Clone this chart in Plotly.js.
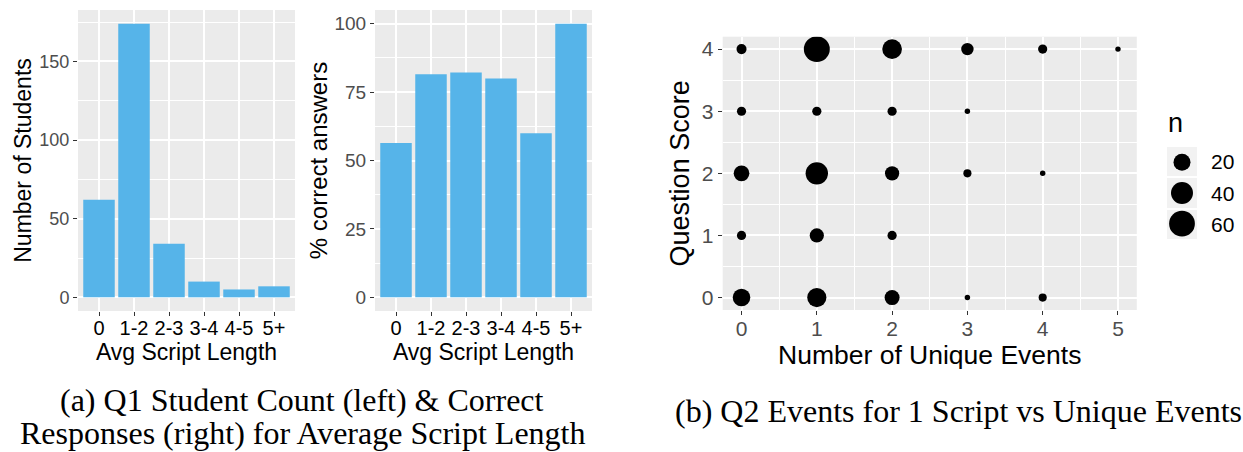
<!DOCTYPE html>
<html>
<head>
<meta charset="utf-8">
<script src="https://cdn.plot.ly/plotly-3.0.1.min.js"></script>
<style>html,body{margin:0;padding:0;background:#fff;}#chart{width:1243px;height:452px;}</style>
</head>
<body>
<div id="chart"></div>
<script>
// ---- data ----
var scriptLengthCategories = ['0', '1-2', '2-3', '3-4', '4-5', '5+'];
var studentCounts = [62, 174, 34, 10, 5, 7];
var percentCorrect = [56.4, 81.5, 82.2, 80, 60, 100];

var uniqueEvents  = [0, 1, 2, 3, 4, 5,  0, 1, 2, 3,  0, 1, 2, 3, 4,  0, 1, 2,  0, 1, 2, 3, 4];
var questionScore = [4, 4, 4, 4, 4, 4,  3, 3, 3, 3,  2, 2, 2, 2, 2,  1, 1, 1,  0, 0, 0, 0, 0];
var nStudents     = [4, 61, 30, 8, 3, 1,  3, 3, 3, 1,  16, 42, 12, 2, 1,  3, 12, 3,  22, 28, 14, 1, 2];

var legendBreaks = [20, 40, 60];
var legendLabels = ['20', '40', '60'];

// ---- size scale (area-proportional, like ggplot scale_size range 1..6) ----
var nMin = Math.min.apply(null, nStudents), nMax = Math.max.apply(null, nStudents);
function sizeScale(n) { return 4.1 * (1 + 5 * Math.sqrt((n - nMin) / (nMax - nMin)) + 0.33); }

var W = 1243, H = 452;
function px(x) { return x / W; }
function py(y) { return 1 - y / H; }

var SANS = 'Liberation Sans, Arial, sans-serif';
var SERIF = 'Liberation Serif, Times New Roman, serif';
var BAR = '#56B4E9';
var TICKGRAY = '#4D4D4D';

var traces = [
  { type: 'bar', x: scriptLengthCategories, y: studentCounts, xaxis: 'x', yaxis: 'y',
    marker: { color: BAR, line: { width: 0 } }, hoverinfo: 'x+y' },
  { type: 'bar', x: scriptLengthCategories, y: percentCorrect, xaxis: 'x2', yaxis: 'y2',
    marker: { color: BAR, line: { width: 0 } }, hoverinfo: 'x+y' },
  { type: 'scatter', mode: 'markers', x: uniqueEvents, y: questionScore, xaxis: 'x3', yaxis: 'y3',
    marker: { color: '#000000', opacity: 1, size: nStudents.map(sizeScale), sizemode: 'diameter', line: { width: 0 } },
    text: nStudents, hovertemplate: 'n=%{text}<extra></extra>' },
  { type: 'scatter', mode: 'markers', x: legendBreaks.map(function () { return 0; }),
    y: legendBreaks.map(function (v, i) { return i; }), xaxis: 'x4', yaxis: 'y4',
    marker: { color: '#000000', opacity: 1, size: legendBreaks.map(sizeScale), sizemode: 'diameter', line: { width: 0 } },
    hoverinfo: 'skip' }
];

function baseAxis(extra) {
  var a = {
    showline: false, zeroline: false, showgrid: true, gridcolor: '#FFFFFF', gridwidth: 2,
    ticks: 'outside', ticklen: 4, tickwidth: 1, tickcolor: '#333333',
    tickfont: { family: SANS, size: 19, color: TICKGRAY }, fixedrange: true
  };
  for (var k in extra) a[k] = extra[k];
  return a;
}

var layout = {
  width: W, height: H,
  margin: { l: 0, r: 0, t: 0, b: 0 },
  paper_bgcolor: '#FFFFFF', plot_bgcolor: '#EBEBEB',
  showlegend: false, bargap: 0.1,
  font: { family: SANS, color: '#000000' },

  xaxis: baseAxis({ domain: [px(78), px(295)], anchor: 'y', type: 'category',
    range: [-0.6, 5.6], tickfont: { family: SANS, size: 20, color: '#000000' }, ticklabelstandoff: -5,
    title: { text: 'Avg Script Length', font: { family: SANS, size: 23, color: '#000000' }, standoff: 0 } }),
  yaxis: baseAxis({ domain: [py(311), py(10)], anchor: 'x', range: [-8.7, 182.7],
    tickmode: 'linear', tick0: 0, dtick: 50, tickfont: { family: SANS, size: 18, color: TICKGRAY },
    minor: { tickmode: 'linear', tick0: 25, dtick: 50, showgrid: true, gridcolor: '#FFFFFF', gridwidth: 1, ticks: '' },
    title: { text: 'Number of Students', font: { family: SANS, size: 23, color: '#000000' }, standoff: 1 } }),

  xaxis2: baseAxis({ domain: [px(375), px(592)], anchor: 'y2', type: 'category',
    range: [-0.6, 5.6], tickfont: { family: SANS, size: 20, color: '#000000' }, ticklabelstandoff: -5,
    title: { text: 'Avg Script Length', font: { family: SANS, size: 23, color: '#000000' }, standoff: 0 } }),
  yaxis2: baseAxis({ domain: [py(311), py(10)], anchor: 'x2', range: [-5, 105],
    tickmode: 'linear', tick0: 0, dtick: 25, tickfont: { family: SANS, size: 19, color: TICKGRAY },
    minor: { tickmode: 'linear', tick0: 12.5, dtick: 25, showgrid: true, gridcolor: '#FFFFFF', gridwidth: 1, ticks: '' },
    title: { text: '% correct answers', font: { family: SANS, size: 24, color: '#000000' }, standoff: 0 } }),

  xaxis3: baseAxis({ domain: [px(722.7), px(1136.8)], anchor: 'y3', range: [-0.25, 5.25],
    tickmode: 'linear', tick0: 0, dtick: 1, tickfont: { family: SANS, size: 21, color: TICKGRAY }, ticklabelstandoff: -4,
    minor: { tickmode: 'linear', tick0: 0.5, dtick: 1, showgrid: true, gridcolor: '#FFFFFF', gridwidth: 1, ticks: '' },
    title: { text: 'Number of Unique Events', font: { family: SANS, size: 26.5, color: '#000000' }, standoff: 3 } }),
  yaxis3: baseAxis({ domain: [py(310), py(36.7)], anchor: 'x3', range: [-0.2, 4.2],
    tickmode: 'linear', tick0: 0, dtick: 1, tickfont: { family: SANS, size: 21, color: TICKGRAY },
    minor: { tickmode: 'linear', tick0: 0.5, dtick: 1, showgrid: true, gridcolor: '#FFFFFF', gridwidth: 1, ticks: '' },
    title: { text: 'Question Score', font: { family: SANS, size: 27, color: '#000000' }, standoff: 4 } }),

  xaxis4: { domain: [px(1167), px(1197)], anchor: 'y4', range: [-1, 1], visible: false, fixedrange: true },
  yaxis4: { domain: [py(239), py(147)], anchor: 'x4', range: [2.5, -0.5], visible: false, fixedrange: true },

  shapes: [
    { type: 'rect', xref: 'paper', yref: 'paper', x0: px(1160), x1: px(1205), y0: py(245), y1: py(140),
      fillcolor: '#FFFFFF', line: { width: 0 }, layer: 'below' },
    { type: 'rect', xref: 'paper', yref: 'paper', x0: px(1167), x1: px(1197), y0: py(176), y1: py(147),
      fillcolor: '#F2F2F2', line: { width: 0 }, layer: 'below' },
    { type: 'rect', xref: 'paper', yref: 'paper', x0: px(1167), x1: px(1197), y0: py(208), y1: py(178),
      fillcolor: '#F2F2F2', line: { width: 0 }, layer: 'below' },
    { type: 'rect', xref: 'paper', yref: 'paper', x0: px(1167), x1: px(1197), y0: py(239), y1: py(210),
      fillcolor: '#F2F2F2', line: { width: 0 }, layer: 'below' }
  ],

  annotations: [
    { xref: 'paper', yref: 'paper', x: px(1166), y: py(123), xanchor: 'left', yanchor: 'middle',
      text: 'n', showarrow: false, font: { family: SANS, size: 27, color: '#000000' } },
    { xref: 'paper', yref: 'paper', x: px(302), y: py(400), xanchor: 'center', yanchor: 'middle',
      text: '(a) Q1 Student Count (left) &amp; Correct', showarrow: false,
      font: { family: SERIF, size: 32, color: '#000000' } },
    { xref: 'paper', yref: 'paper', x: px(302), y: py(433), xanchor: 'center', yanchor: 'middle',
      text: 'Responses (right) for Average Script Length', showarrow: false,
      font: { family: SERIF, size: 32, color: '#000000' } },
    { xref: 'paper', yref: 'paper', x: px(958), y: py(411), xanchor: 'center', yanchor: 'middle',
      text: '(b) Q2 Events for 1 Script vs Unique Events', showarrow: false,
      font: { family: SERIF, size: 32, color: '#000000' } }
  ]
};

var legendCentersPx = [161.7, 193.3, 224.3];
legendLabels.forEach(function (lab, i) {
  layout.annotations.push({ xref: 'paper', yref: 'paper', x: px(1209), y: py(legendCentersPx[i]),
    xanchor: 'left', yanchor: 'middle',
    text: lab, showarrow: false, font: { family: SANS, size: 21, color: '#000000' } });
});

Plotly.newPlot('chart', traces, layout, { staticPlot: true, displayModeBar: false });
</script>
</body>
</html>
